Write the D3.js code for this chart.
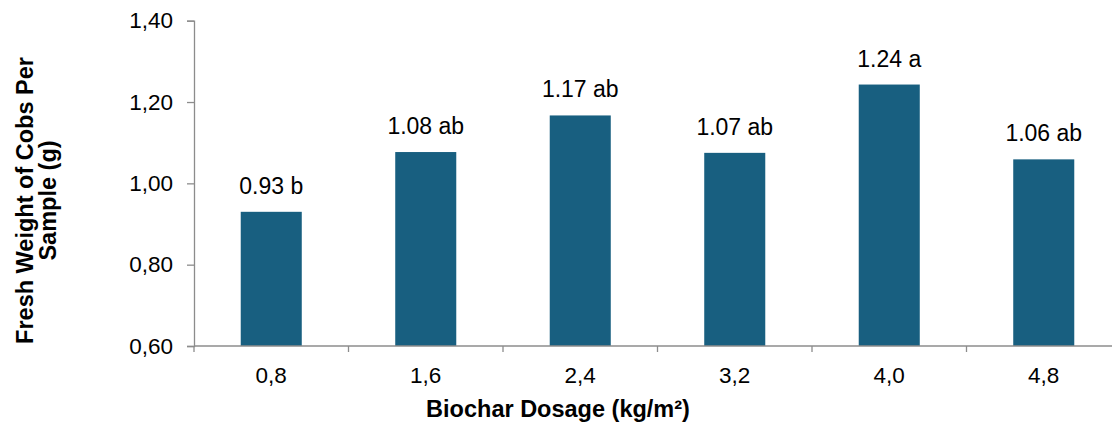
<!DOCTYPE html>
<html>
<head>
<meta charset="utf-8">
<script src="https://cdn.jsdelivr.net/npm/d3@7/dist/d3.min.js"></script>
<style>
html,body{margin:0;padding:0;background:#fff;}
svg{display:block;}
text{font-family:"Liberation Sans",Arial,sans-serif;fill:#000;}
</style>
</head>
<body>
<svg id="chart" width="1112" height="425"></svg>
<script>
const categories = ["0,8", "1,6", "2,4", "3,2", "4,0", "4,8"];
const values = [0.93, 1.077, 1.167, 1.075, 1.243, 1.059];
const valueLabels = ["0.93 b", "1.08 ab", "1.17 ab", "1.07 ab", "1.24 a", "1.06 ab"];
const yTicks = [0.6, 0.8, 1.0, 1.2, 1.4];

const svg = d3.select("#chart");
const x0 = 194, step = 154.5;
const x = d3.scaleBand().domain(categories).range([x0, x0 + step * categories.length]).padding(0);
const y = d3.scaleLinear().domain([0.6, 1.4]).range([346, 20.7]);
const axisColor = "#8c8c8c";
const barColor = "#185f80";
const barW = x.bandwidth() * 0.395;

// bars
svg.selectAll("rect.bar").data(values).enter().append("rect")
  .attr("class", "bar")
  .attr("x", (d, i) => x(categories[i]) + x.bandwidth() / 2 - barW / 2)
  .attr("width", barW)
  .attr("y", d => y(d))
  .attr("height", d => y(0.6) - y(d))
  .attr("fill", barColor);

// y axis
const yAxis = d3.axisLeft(y).tickValues(yTicks).tickSize(7).tickPadding(14)
  .tickFormat(d => d3.format(".2f")(d).replace(".", ","));
const gy = svg.append("g").attr("transform", `translate(${x0},0)`).call(yAxis);
gy.select(".domain").attr("stroke", axisColor).attr("stroke-width", 1.3);
gy.selectAll(".tick line").attr("stroke", axisColor).attr("stroke-width", 1.3);
gy.selectAll(".tick text").attr("font-size", 22.5).attr("font-family", "Liberation Sans, Arial, sans-serif").attr("fill", "#000");

// x axis
const gx = svg.append("g").attr("transform", `translate(0,${y(0.6)})`);
gx.append("line").attr("x1", x0).attr("x2", x0 + step * categories.length)
  .attr("stroke", axisColor).attr("stroke-width", 1.3);
const bounds = d3.range(categories.length + 1).map(i => x0 + i * step);
gx.selectAll("line.tk").data(bounds).enter().append("line").attr("class", "tk")
  .attr("x1", d => d).attr("x2", d => d).attr("y1", 0).attr("y2", 6)
  .attr("stroke", axisColor).attr("stroke-width", 1.3);
gx.selectAll("text.cat").data(categories).enter().append("text").attr("class", "cat")
  .attr("x", d => x(d) + x.bandwidth() / 2).attr("y", 37)
  .attr("text-anchor", "middle").attr("font-size", 22.5).text(d => d);

// value labels
svg.selectAll("text.val").data(values).enter().append("text").attr("class", "val")
  .attr("x", (d, i) => x(categories[i]) + x.bandwidth() / 2)
  .attr("y", d => y(d) - 18)
  .attr("text-anchor", "middle").attr("font-size", 23).text((d, i) => valueLabels[i]);

// axis titles
svg.append("text").attr("x", 558).attr("y", 417).attr("text-anchor", "middle")
  .attr("font-size", 23.5).attr("font-weight", "bold").text("Biochar Dosage (kg/m²)");
const yt = svg.append("text").attr("transform", "translate(32.5,200.5) rotate(-90)")
  .attr("text-anchor", "middle").attr("font-size", 23.5).attr("font-weight", "bold");
yt.append("tspan").attr("x", 0).attr("y", 0).text("Fresh Weight of Cobs Per");
yt.append("tspan").attr("x", 0).attr("y", 23).text("Sample (g)");
</script>
</body>
</html>
